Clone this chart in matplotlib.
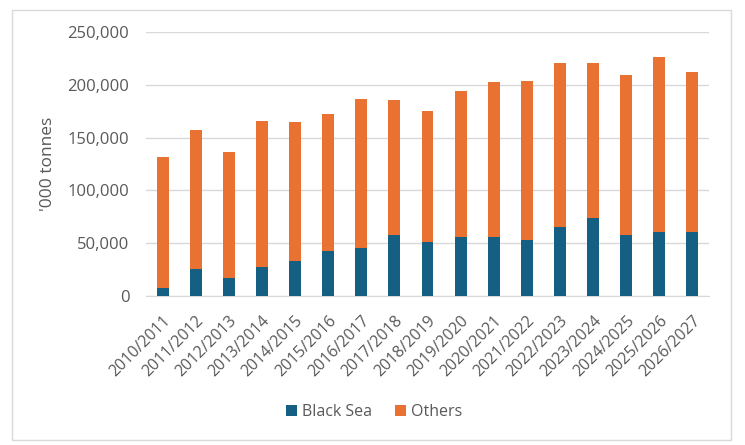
import matplotlib
matplotlib.use("Agg")
import matplotlib.pyplot as plt
from matplotlib.patches import Rectangle
from matplotlib.ticker import FuncFormatter

seasons = ["2010/2011", "2011/2012", "2012/2013", "2013/2014", "2014/2015", "2015/2016",
           "2016/2017", "2017/2018", "2018/2019", "2019/2020", "2020/2021", "2021/2022",
           "2022/2023", "2023/2024", "2024/2025", "2025/2026", "2026/2027"]
totals = [131800, 157300, 135900, 165800, 164300, 172800, 187000, 185700, 175600,
          194200, 202700, 204000, 221000, 221000, 209700, 226400, 212500]
black_sea = [7300, 25500, 17300, 27100, 32800, 42600, 45400, 58000, 51100,
             55500, 55500, 53000, 65300, 73800, 58000, 60900, 60900]
others = [t - b for t, b in zip(totals, black_sea)]

plt.rcParams['font.family'] = ['Open Sans', 'DejaVu Sans']
txt = '#595959'

fig = plt.figure(figsize=(7.45, 4.45), dpi=100)
ax = fig.add_axes([146/745, 1 - 296/445, (709-146)/745, (296-32)/445])

x = list(range(len(seasons)))
ax.bar(x, black_sea, width=0.36, color='#156082', label='Black Sea', zorder=3)
ax.bar(x, others, width=0.36, bottom=black_sea, color='#E97132', label='Others', zorder=3)

ax.set_xlim(-0.5, len(seasons) - 0.5)
ax.set_ylim(0, 250000)
ax.set_yticks(range(0, 250001, 50000))
ax.yaxis.set_major_formatter(FuncFormatter(lambda v, p: f"{int(v):,}"))
ax.grid(axis='y', color='#D9D9D9', linewidth=1, zorder=0)
for s in ['top', 'right', 'left']:
    ax.spines[s].set_visible(False)
ax.spines['bottom'].set_color('#D9D9D9')
ax.tick_params(axis='both', length=0, colors=txt)
ax.tick_params(axis='y', pad=12, labelsize=12)
ax.tick_params(axis='x', pad=12, labelsize=11.5)
ax.set_xticks(x)
ax.set_xticklabels(seasons, rotation=45, ha='right', rotation_mode='anchor')
ax.set_ylabel("'000 tonnes", color=txt, fontsize=12.5, labelpad=8)

ax.legend(loc='center', bbox_to_anchor=(374/745, 1 - 412/445), bbox_transform=fig.transFigure,
          ncol=2, frameon=False, fontsize=11.5, handlelength=0.7, handleheight=0.7,
          handletextpad=0.3, columnspacing=1.4, labelcolor=txt)

fig.patches.append(Rectangle((12/745, 1 - 440/445), (731-12)/745, (440-10)/445,
                             transform=fig.transFigure, fill=False, edgecolor='#D9D9D9', linewidth=1))

fig.savefig('out.png', dpi=100)
